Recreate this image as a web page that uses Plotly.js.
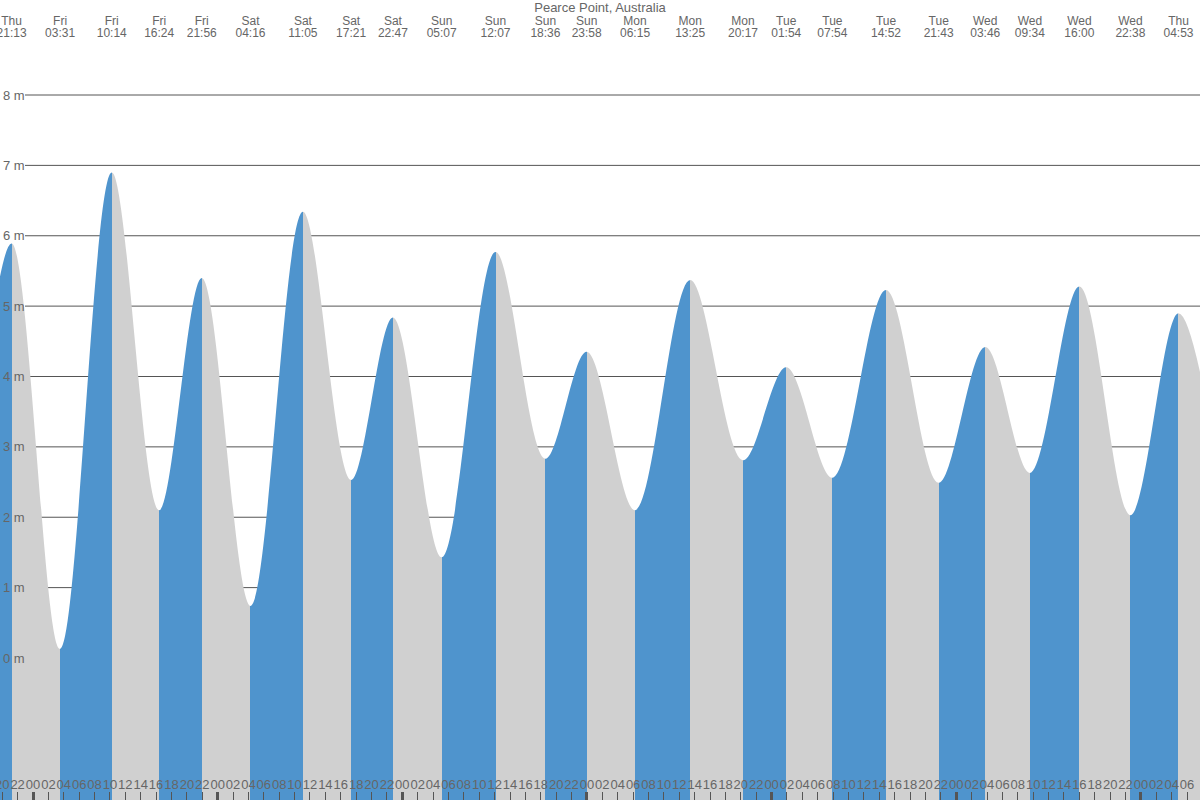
<!DOCTYPE html>
<html><head><meta charset="utf-8">
<script src="https://cdn.plot.ly/plotly-3.0.1.min.js"></script>
<style>html,body{margin:0;padding:0;background:#fff}#chart{width:1200px;height:800px}</style>
</head><body><div id="chart"></div>
<script>
const stationTitle = 'Pearce Point, Australia';
// tide extremes (first and last lie just outside the visible window)
const extremeDays = ['Thu','Thu','Fri','Fri','Fri','Fri','Sat','Sat','Sat','Sat','Sun','Sun','Sun','Sun','Mon','Mon','Mon','Tue','Tue','Tue','Tue','Wed','Wed','Wed','Wed','Thu','Thu'];
const extremeTimes = ['15:30','21:13','03:31','10:14','16:24','21:56','04:16','11:05','17:21','22:47','05:07','12:07','18:36','23:58','06:15','13:25','20:17','01:54','07:54','14:52','21:43','03:46','09:34','16:00','22:38','04:53','10:45'];
const extremeHeights = [1.9,5.89,0.13,6.9,2.1,5.4,0.74,6.34,2.53,4.84,1.43,5.77,2.83,4.35,2.1,5.37,2.81,4.13,2.56,5.23,2.49,4.42,2.63,5.28,2.03,4.9,2.2];
const heightTicks = [0,1,2,3,4,5,6,7,8];
const hourStep = 2;

const risingColor = '#4f94cd';
const fallingColor = '#d0d0d0';
const xRange = [-4.289, 151.68];
const yRange = [-2.018, 9.35];

// hours relative to Friday 00:00
let dayIdx = -1;
const xs = extremeDays.map((d, i) => {
  if (i > 0 && d !== extremeDays[i - 1]) dayIdx++;
  const [h, m] = extremeTimes[i].split(':').map(Number);
  return dayIdx * 24 + h + m / 60;
});

const x0 = xs[0], x1 = xs[xs.length - 1], span = x1 - x0;
const colorscale = [];
for (let i = 0; i < xs.length - 1; i++) {
  const c = extremeHeights[i + 1] > extremeHeights[i] ? risingColor : fallingColor;
  colorscale.push([(xs[i] - x0) / span, c]);
  colorscale.push([(xs[i + 1] - x0) / span, c]);
}
colorscale[colorscale.length - 1][0] = 1;
colorscale[0][0] = 0;

const hourVals = [], hourText = [];
for (let v = Math.ceil(xRange[0] / hourStep) * hourStep; v <= 152; v += hourStep) {
  hourVals.push(v);
  const h = ((v % 24) + 24) % 24;
  hourText.push(String(h).padStart(2, '0'));
}

const inRange = xs.map(x => x >= xRange[0] - 1 && x <= xRange[1] + 1);
const topVals = xs.filter((x, i) => inRange[i]);
const topDays = extremeDays.filter((d, i) => inRange[i]);
const topTimes = extremeTimes.filter((t, i) => inRange[i]);

const txt = '#666';
const fontFam = 'Liberation Sans, Arial, sans-serif';

const data = [
  {x: [x0, x1], y: [yRange[0] - 1, yRange[0] - 1], mode: 'lines', line: {width: 0, color: 'rgba(0,0,0,0)'}, hoverinfo: 'skip', showlegend: false},
  {x: xs, y: extremeHeights, mode: 'lines', line: {shape: 'spline', smoothing: 1, width: 0, color: 'rgba(0,0,0,0)'},
   fill: 'tonexty', fillcolor: risingColor,
   fillgradient: {type: 'horizontal', start: x0, stop: x1, colorscale: colorscale},
   hoverinfo: 'skip', showlegend: false},
  {x: xRange, y: [0, 0], mode: 'none', xaxis: 'x2', hoverinfo: 'skip', showlegend: false},
  {x: xRange, y: [0, 0], mode: 'none', xaxis: 'x3', hoverinfo: 'skip', showlegend: false},
  {x: xRange, y: [0, 0], mode: 'none', xaxis: 'x4', hoverinfo: 'skip', showlegend: false}
];

const shapes = heightTicks.map(v => ({
  type: 'line', xref: 'paper', x0: 25 / 1200, x1: 1, yref: 'y', y0: v, y1: v,
  line: {color: '#555', width: 1}, layer: 'below'
}));

const layout = {
  width: 1200, height: 800,
  margin: {l: 0, r: 0, t: 0, b: 0, pad: 0},
  paper_bgcolor: '#fff', plot_bgcolor: '#fff',
  font: {family: fontFam, size: 12, color: txt},
  showlegend: false,
  title: {text: stationTitle, x: 0.5, xanchor: 'center', y: 1, yanchor: 'top', yref: 'container',
          pad: {t: 3, b: 0, l: 0, r: 0}, font: {family: fontFam, size: 13, color: txt}},
  xaxis: {range: xRange, showgrid: false, zeroline: false, showline: false,
          tickmode: 'array', tickvals: hourVals, ticktext: hourText, tickangle: 0,
          ticks: 'inside', ticklen: 8, tickwidth: 1, tickcolor: '#555',
          ticklabelposition: 'inside', ticklabeloverflow: 'allow',
          tickfont: {family: fontFam, size: 13, color: txt}, fixedrange: true},
  xaxis3: {overlaying: 'x', anchor: 'y', side: 'bottom', range: xRange, showgrid: false, zeroline: false, showline: false,
           tickmode: 'linear', tick0: 0, dtick: 24, ticks: 'inside', ticklen: 8, tickwidth: 3, tickcolor: '#555',
           showticklabels: false, fixedrange: true},
  xaxis2: {overlaying: 'x', anchor: 'y', side: 'top', range: xRange, showgrid: false, zeroline: false, showline: false,
           tickmode: 'array', tickvals: topVals, ticktext: topDays, ticks: '', tickangle: 0,
           ticklabelposition: 'inside', ticklabeloverflow: 'allow', ticklabelstandoff: 14,
           tickfont: {family: fontFam, size: 12, color: txt}, fixedrange: true},
  xaxis4: {overlaying: 'x', anchor: 'y', side: 'top', range: xRange, showgrid: false, zeroline: false, showline: false,
           tickmode: 'array', tickvals: topVals, ticktext: topTimes, ticks: '', tickangle: 0,
           ticklabelposition: 'inside', ticklabeloverflow: 'allow', ticklabelstandoff: 26,
           tickfont: {family: fontFam, size: 12, color: txt}, fixedrange: true},
  yaxis: {range: yRange, showgrid: false, zeroline: false, showline: false,
          tickmode: 'array', tickvals: heightTicks, ticktext: heightTicks.map(v => v + ' m'),
          ticks: '', ticklabelposition: 'inside', ticklabeloverflow: 'allow',
          tickfont: {family: fontFam, size: 13, color: txt}, fixedrange: true},
  shapes: shapes
};

Plotly.newPlot('chart', data, layout, {displayModeBar: false, staticPlot: true});
</script>
</body></html>
